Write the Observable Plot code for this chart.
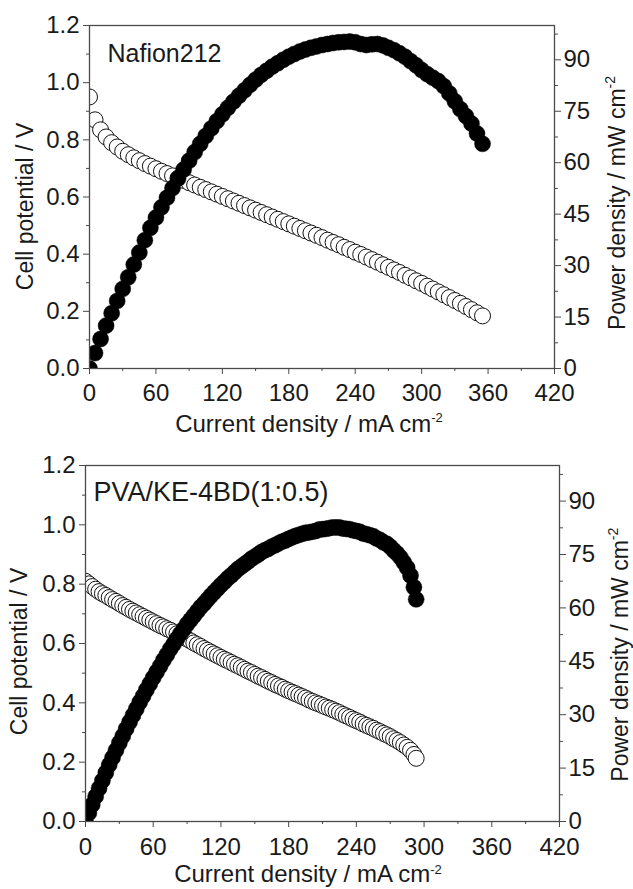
<!DOCTYPE html>
<html><head><meta charset="utf-8">
<script src="https://cdn.jsdelivr.net/npm/d3@7"></script>
<script src="https://cdn.jsdelivr.net/npm/@observablehq/plot@0.6"></script>
<style>
body{margin:0;background:#fff;}
svg{display:block;overflow:visible;}
</style>
</head><body><div id="chart"></div>
<script>
// ---- Data ----
const nafionCurrent = [0,5,10,15,20,25,30,35,40,45,50,55,60,65,70,75,80,85,90,95,100,105,110,115,120,125,130,135,140,145,150,155,160,165,170,175,180,185,190,195,200,205,210,215,220,225,230,235,240,245,250,255,260,265,270,275,280,285,290,295,300,305,310,315,320,325,330,335,340,345,350,355];
const nafionPotential = [0.95,0.87,0.835,0.81,0.79,0.775,0.76,0.748,0.737,0.727,0.717,0.708,0.699,0.690,0.682,0.674,0.666,0.658,0.650,0.642,0.634,0.626,0.618,0.610,0.602,0.594,0.586,0.578,0.570,0.562,0.554,0.546,0.538,0.530,0.522,0.514,0.506,0.498,0.490,0.482,0.474,0.466,0.458,0.449,0.441,0.433,0.424,0.416,0.407,0.399,0.390,0.381,0.372,0.363,0.354,0.345,0.336,0.326,0.317,0.307,0.298,0.288,0.278,0.268,0.258,0.248,0.238,0.228,0.217,0.206,0.195,0.184];
const nafionPower = [0,4.5,8.6,12.5,16.1,19.7,23.2,26.6,30.3,33.8,37.4,41.0,44.0,47.0,49.8,52.6,55.4,58.0,60.6,63.1,65.5,67.8,70.0,72.1,74.1,76.0,77.8,79.5,81.1,82.7,84.2,85.6,86.8,88.0,89.0,90.0,90.9,91.7,92.4,93.0,93.5,93.9,94.3,94.6,94.9,95.1,95.2,95.3,95.1,94.6,94.3,94.5,94.6,94.2,93.5,92.8,91.9,90.9,89.6,88.4,87.0,85.8,84.8,83.8,82.3,80.2,77.9,75.6,73.6,71.4,68.5,65.5];

const pvaCurrent = [0,3,6,9,12,15,18,21,24,27,30,33,36,39,42,45,48,51,54,57,60,63,66,69,72,75,78,81,84,87,90,93,96,99,102,105,108,111,114,117,120,123,126,129,132,135,138,141,144,147,150,153,156,159,162,165,168,171,174,177,180,183,186,189,192,195,198,201,204,207,210,213,216,219,222,225,228,231,234,237,240,243,246,249,252,255,258,261,264,267,270,273,276,279,282,285,288,291,293];
const pvaPotential = [0.810,0.801,0.792,0.783,0.775,0.768,0.762,0.755,0.748,0.742,0.735,0.728,0.722,0.715,0.709,0.703,0.697,0.691,0.685,0.679,0.673,0.667,0.661,0.656,0.650,0.645,0.639,0.633,0.627,0.621,0.615,0.609,0.602,0.596,0.590,0.583,0.577,0.571,0.565,0.559,0.553,0.547,0.542,0.536,0.530,0.525,0.519,0.513,0.507,0.502,0.496,0.490,0.485,0.479,0.473,0.468,0.462,0.457,0.452,0.446,0.441,0.436,0.431,0.426,0.421,0.416,0.410,0.405,0.400,0.396,0.391,0.386,0.382,0.377,0.372,0.367,0.361,0.356,0.351,0.345,0.340,0.335,0.329,0.324,0.319,0.314,0.308,0.303,0.297,0.292,0.286,0.279,0.273,0.266,0.258,0.250,0.240,0.226,0.213];
const pvaPower = [0,2.4,4.75,7.05,9.3,11.5,13.7,15.9,17.95,20.0,22.05,24.0,26.0,27.9,29.8,31.6,33.5,35.2,37.0,38.7,40.4,42.0,43.6,45.3,46.8,48.4,49.8,51.3,52.7,54.0,55.4,56.6,57.8,59.0,60.2,61.2,62.3,63.4,64.4,65.4,66.4,67.3,68.3,69.1,70.0,70.9,71.6,72.3,73.0,73.8,74.4,75.0,75.7,76.2,76.6,77.2,77.6,78.1,78.6,78.9,79.4,79.8,80.2,80.5,80.8,81.1,81.2,81.4,81.6,82.0,82.1,82.2,82.4,82.6,82.6,82.6,82.3,82.2,82.1,81.8,81.6,81.4,80.9,80.7,80.4,80.1,79.5,79.1,78.4,78.0,77.2,76.2,75.3,74.2,72.8,71.3,69.1,65.8,62.4];

const xMajor = [0,60,120,180,240,300,360,420];
const xMinor = [30,90,150,210,270,330,390];
const potentialMajor = [0,0.2,0.4,0.6,0.8,1.0,1.2];
const potentialMinor = [0.1,0.3,0.5,0.7,0.9,1.1];
const powerMajor = [0,15,30,45,60,75,90];
const powerMinor = [7.5,22.5,37.5,52.5,67.5,82.5,97.5];

const potentialMax = 1.2, powerMax = 100;
const k = potentialMax / powerMax; // maps power (right axis) onto the potential scale

const FONT = "'Liberation Sans', Arial, Helvetica, sans-serif";
const AX = "#4a4a4a";
const TXT = "#1a1a1a";

function panel(cfg) {
  const pts = cfg.current.map((c, i) => ({c, v: cfg.potential[i], p: cfg.power[i]}));
  const svg = Plot.plot({
    width: 633, height: cfg.height,
    marginTop: cfg.mt, marginBottom: cfg.mb, marginLeft: cfg.ml, marginRight: cfg.mr,
    style: {fontFamily: FONT, fontSize: "24px", color: TXT, background: "#fff", overflow: "visible"},
    x: {domain: [0, 420]},
    y: {domain: [0, potentialMax]},
    marks: [
      Plot.dot(pts, {x: "c", y: "v", r: 8, fill: "white", stroke: "#111", strokeWidth: 1, clip: true}),
      Plot.dot(pts, {x: "c", y: d => d.p * k, r: 8, fill: "#000", stroke: "#000", strokeWidth: 0.5, clip: true}),
      Plot.frame({stroke: AX, strokeWidth: 1.3}),
      Plot.axisX({ticks: xMajor, tickSize: 6, tickPadding: cfg.xPad, tickFormat: d => String(d), label: null, stroke: AX, fill: TXT}),
      Plot.axisX({ticks: xMinor, tickSize: 3, tickFormat: () => "", label: null, stroke: AX}),
      Plot.axisY({ticks: potentialMajor, tickSize: 6, tickPadding: 4, tickFormat: d => d.toFixed(1), label: null, stroke: AX, fill: TXT}),
      Plot.axisY({ticks: potentialMinor, tickSize: 3, tickFormat: () => "", label: null, stroke: AX}),
      Plot.axisY({anchor: "right", ticks: powerMajor.map(p => p * k), tickSize: 6, tickPadding: 3, tickFormat: d => String(Math.round(d / k)), label: null, stroke: AX, fill: TXT}),
      Plot.axisY({anchor: "right", ticks: powerMinor.map(p => p * k), tickSize: 3, tickFormat: () => "", label: null, stroke: AX}),
      Plot.text([cfg.label], {frameAnchor: "top-left", dx: cfg.labelDx, dy: cfg.labelDy, textAnchor: "start", lineAnchor: "top", fontSize: cfg.labelSize, fill: TXT})
    ]
  });
  const s = d3.select(svg);
  // x title
  const xt = s.append("text").attr("x", cfg.xTitle[0]).attr("y", cfg.xTitle[1])
    .attr("text-anchor", "middle").attr("fill", TXT).attr("font-size", 24);
  xt.append("tspan").text("Current density / mA cm");
  xt.append("tspan").attr("dy", cfg.supDy).attr("font-size", 13).text("-2");
  // left title
  s.append("text").attr("transform", `translate(${cfg.yTitle[0]},${cfg.yTitle[1]}) rotate(-90)`)
    .attr("text-anchor", "middle").attr("fill", TXT).attr("font-size", 23).text("Cell potential / V");
  // right title
  const rt = s.append("text").attr("transform", `translate(${cfg.rTitle[0]},${cfg.rTitle[1]}) rotate(-90)`)
    .attr("text-anchor", "start").attr("fill", TXT).attr("font-size", 23);
  rt.append("tspan").text("Power density / mW cm");
  rt.append("tspan").attr("dy", -10).attr("font-size", 14).text("-2");
  return svg;
}

const root = document.getElementById("chart");
root.append(panel({
  current: nafionCurrent, potential: nafionPotential, power: nafionPower,
  label: "Nafion212", labelDx: 18, labelDy: 19, labelSize: 25,
  height: 445, mt: 25, mb: 77, ml: 89, mr: 79, xPad: 9, supDy: -10,
  xTitle: [309, 432], yTitle: [33, 206.5], rTitle: [625, 330]
}));
root.append(panel({
  current: pvaCurrent, potential: pvaPotential, power: pvaPower,
  label: "PVA/KE-4BD(1:0.5)", labelDx: 8, labelDy: 16, labelSize: 27,
  height: 444, mt: 20, mb: 68, ml: 85, mr: 74, xPad: 10, supDy: -8,
  xTitle: [308, 437], yTitle: [27, 206.5], rTitle: [628, 336.7]
}));
</script>
</body></html>
